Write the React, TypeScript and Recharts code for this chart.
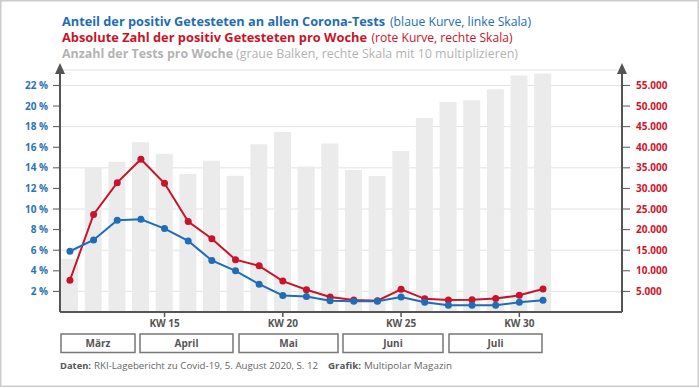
import React from 'react';
import { ComposedChart, Bar, Line, XAxis, YAxis, CartesianGrid } from 'recharts';

// ---- data ----
const WEEKS = [11, 12, 13, 14, 15, 16, 17, 18, 19, 20, 21, 22, 23, 24, 25, 26, 27, 28, 29, 30, 31];
// share of positive tests in % (blue, left scale)
const POSITIVE_RATE = [5.9, 7.0, 8.9, 9.0, 8.1, 6.9, 5.0, 4.0, 2.7, 1.6, 1.5, 1.1, 1.05, 1.05, 1.45, 0.95, 0.65, 0.65, 0.65, 0.95, 1.15];
// absolute number of positives per week (red, right scale)
const POSITIVE_COUNT = [7700, 23700, 31400, 37100, 31250, 21950, 17800, 12700, 11200, 7500, 5400, 3650, 2900, 2750, 5500, 3200, 2900, 3000, 3250, 4050, 5600];
// tests per week (grey bars, right scale x10)
const TESTS = [129000, 351000, 365000, 412000, 384000, 335000, 367000, 331000, 407000, 437000, 353000, 409000, 345000, 330000, 391000, 471000, 510000, 514000, 541000, 574000, 579000];
const WEEK_TICKS = [15, 20, 25, 30];
const RATE_TICKS = [2, 4, 6, 8, 10, 12, 14, 16, 18, 20, 22];
const COUNT_TICKS = [5000, 10000, 15000, 20000, 25000, 30000, 35000, 40000, 45000, 50000, 55000];
const MONTHS = ['März', 'April', 'Mai', 'Juni', 'Juli'];

const TITLE_1 = 'Anteil der positiv Getesteten an allen Corona-Tests';
const TITLE_1B = '(blaue Kurve, linke Skala)';
const TITLE_2 = 'Absolute Zahl der positiv Getesteten pro Woche';
const TITLE_2B = '(rote Kurve, rechte Skala)';
const TITLE_3 = 'Anzahl der Tests pro Woche';
const TITLE_3B = '(graue Balken, rechte Skala mit 10 multiplizieren)';
const SOURCE_A = 'Daten:';
const SOURCE_B = 'RKI-Lagebericht zu Covid-19, 5. August 2020, S. 12';
const SOURCE_C = 'Grafik:';
const SOURCE_D = 'Multipolar Magazin';

const data = WEEKS.map((week, i) => ({
  week,
  rate: POSITIVE_RATE[i],
  count: POSITIVE_COUNT[i],
  tests: TESTS[i] / 10,
}));

// ---- style ----
const BLUE = '#1e6db5';
const RED = '#c8142a';
const BAR = '#ebebeb';
const AXIS = '#555555';
const GRID = '#e3e3e3';
const FONT = '"Open Sans", "Noto Sans", sans-serif';

const fmtThousands = (v: number) => String(v).replace(/\B(?=(\d{3})+(?!\d))/g, '.');

// layout of the month boxes (pixel layout, not data)
const MONTH_BOXES: [number, number][] = [
  [61, 135],
  [140, 233],
  [239, 338],
  [343, 443],
  [449, 542],
];

export default function App() {
  return (
    <div style={{ position: 'absolute', left: 0, top: 0, width: 699, height: 388, background: '#fff', fontFamily: FONT }}>
      <div style={{ position: 'absolute', left: 0, top: 0 }}>
        <ComposedChart
          width={699}
          height={388}
          data={data}
          margin={{ top: 70, right: 0, bottom: 46, left: 0 }}
          style={{ fontFamily: FONT }}
        >
          <CartesianGrid yAxisId="left" horizontal vertical={false} stroke={GRID} strokeWidth={1} />
          <XAxis
            dataKey="week"
            type="number"
            domain={[10.58, 34.34]}
            ticks={WEEK_TICKS}
            tickFormatter={(v: number) => `KW ${v}`}
            axisLine={{ stroke: AXIS, strokeWidth: 2 }}
            tickLine={{ stroke: AXIS, strokeWidth: 1.5 }}
            tickSize={5}
            tickMargin={3}
            height={30}
            tick={{ fill: '#555', fontSize: 10, fontWeight: 700 }}
            allowDataOverflow
          />
          <YAxis
            yAxisId="left"
            orientation="left"
            domain={[0, 23.5]}
            ticks={RATE_TICKS}
            tickFormatter={(v: number) => `${v} %`}
            width={60}
            axisLine={{ stroke: AXIS, strokeWidth: 2 }}
            tickLine={{ stroke: AXIS, strokeWidth: 1 }}
            tickSize={7}
            tickMargin={5}
            tick={{ fill: '#2a74b8', fontSize: 10, fontWeight: 700 }}
            allowDataOverflow
          />
          <YAxis
            yAxisId="right"
            orientation="right"
            domain={[0, 58750]}
            ticks={COUNT_TICKS}
            tickFormatter={fmtThousands}
            width={77}
            axisLine={{ stroke: AXIS, strokeWidth: 2 }}
            tickLine={{ stroke: AXIS, strokeWidth: 1 }}
            tickSize={8}
            tickMargin={6}
            tick={{ fill: '#d0142c', fontSize: 10, fontWeight: 700 }}
            allowDataOverflow
          />
          <Bar yAxisId="right" dataKey="tests" fill={BAR} barSize={17} isAnimationActive={false} />
          <Line
            yAxisId="right"
            dataKey="count"
            stroke={RED}
            strokeWidth={2}
            dot={{ r: 3.5, fill: RED, stroke: RED, strokeWidth: 0 }}
            activeDot={false}
            isAnimationActive={false}
          />
          <Line
            yAxisId="left"
            dataKey="rate"
            stroke={BLUE}
            strokeWidth={2}
            dot={{ r: 3.5, fill: BLUE, stroke: BLUE, strokeWidth: 0 }}
            activeDot={false}
            isAnimationActive={false}
          />
        </ComposedChart>
      </div>
      <svg
        width={699}
        height={388}
        style={{ position: 'absolute', left: 0, top: 0, pointerEvents: 'none' }}
        fontFamily={FONT}
      >
        <rect x={0.75} y={0.75} width={697.5} height={385.5} fill="none" stroke="#cccccc" strokeWidth={1.5} />
        {/* titles */}
        <text x={62} y={26} fontSize={12.5} fontWeight={700} fill={BLUE} textLength={323} lengthAdjust="spacingAndGlyphs">{TITLE_1}</text>
        <text x={390} y={26} fontSize={12.5} fill={BLUE} textLength={141} lengthAdjust="spacingAndGlyphs">{TITLE_1B}</text>
        <text x={62} y={42.3} fontSize={12.5} fontWeight={700} fill={RED} textLength={305} lengthAdjust="spacingAndGlyphs">{TITLE_2}</text>
        <text x={371.5} y={42.3} fontSize={12.5} fill={RED} textLength={141} lengthAdjust="spacingAndGlyphs">{TITLE_2B}</text>
        <text x={62} y={58} fontSize={12.5} fontWeight={700} fill="#b3b3b3" textLength={171} lengthAdjust="spacingAndGlyphs">{TITLE_3}</text>
        <text x={236} y={58} fontSize={12.5} fill="#b3b3b3" textLength={282} lengthAdjust="spacingAndGlyphs">{TITLE_3B}</text>
        {/* axis arrows */}
        <polygon points="60,63 55,74 65,74" fill={AXIS} />
        <polygon points="622,63 617,74 627,74" fill={AXIS} />
        {/* month boxes */}
        {MONTHS.map((m, i) => {
          const [a, b] = MONTH_BOXES[i];
          return (
            <g key={m}>
              <rect x={a} y={334} width={b - a} height={18.5} fill="#fff" stroke="#777" strokeWidth={1.5} />
              <text x={(a + b) / 2} y={347} fontSize={10} fontWeight={700} fill="#555" textAnchor="middle">{m}</text>
            </g>
          );
        })}
        {/* source */}
        <text x={60} y={368.5} fontSize={9.5} fontWeight={700} fill="#555" textLength={31} lengthAdjust="spacingAndGlyphs">{SOURCE_A}</text>
        <text x={94} y={368.5} fontSize={9.5} fill="#666" textLength={224} lengthAdjust="spacingAndGlyphs">{SOURCE_B}</text>
        <text x={328} y={368.5} fontSize={9.5} fontWeight={700} fill="#555" textLength={33} lengthAdjust="spacingAndGlyphs">{SOURCE_C}</text>
        <text x={364} y={368.5} fontSize={9.5} fill="#666" textLength={88} lengthAdjust="spacingAndGlyphs">{SOURCE_D}</text>
      </svg>
    </div>
  );
}
